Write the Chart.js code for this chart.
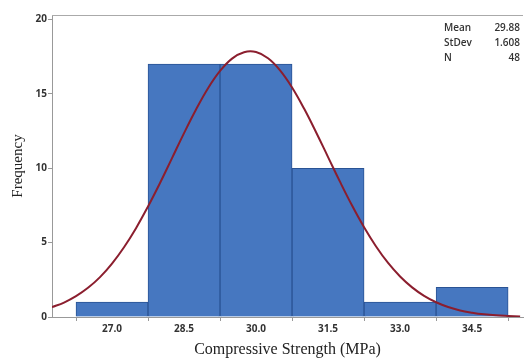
<!DOCTYPE html>
<html>
<head>
<meta charset="utf-8">
<script src="https://cdn.jsdelivr.net/npm/chart.js@4/dist/chart.umd.min.js"></script>
<style>
  html, body { margin: 0; padding: 0; background: #fff; }
  #wrap { width: 525px; height: 359px; }
</style>
</head>
<body>
<div id="wrap"><canvas id="chart" width="525" height="359"></canvas></div>
<script>
// histogram bins (centres) and counts
const binCenters = [27.0, 28.5, 30.0, 31.5, 33.0, 34.5];
const frequencies = [1, 17, 17, 10, 1, 2];
const xTicks = [27.0, 28.5, 30.0, 31.5, 33.0, 34.5];
const yTicks = [0, 5, 10, 15, 20];

// fitted normal curve
const curveX = [25.75, 26.0, 26.25, 26.5, 26.75, 27.0, 27.25, 27.5, 27.75, 28.0, 28.25, 28.5, 28.75, 29.0, 29.25, 29.5, 29.75, 30.0,
  30.25, 30.5, 30.75, 31.0, 31.25, 31.5, 31.75, 32.0, 32.25, 32.5, 32.75, 33.0, 33.25, 33.5, 33.75, 34.0, 34.25, 34.5, 34.75, 35.0, 35.25, 35.5];
const curveY = [0.66, 0.97, 1.40, 1.96, 2.68, 3.59, 4.69, 5.97, 7.43, 9.01, 10.68, 12.36, 13.95, 15.38, 16.54, 17.37, 17.80, 17.81,
  17.39, 16.58, 15.43, 14.01, 12.42, 10.75, 9.08, 7.49, 6.03, 4.74, 3.63, 2.72, 1.99, 1.42, 0.99, 0.67, 0.44, 0.29, 0.18, 0.11, 0.07, 0.04];

const statLabels = ["Mean", "StDev", "N"];
const statValues = ["29.88", "1.608", "48"];

const tickFont = { family: "'Open Sans', sans-serif", size: 10, weight: "bold" };

// top frame line + stats box
const extras = {
  id: "extras",
  afterDraw(chart) {
    const { ctx, chartArea } = chart;
    ctx.save();
    ctx.strokeStyle = "#aaa";
    ctx.lineWidth = 1;
    ctx.beginPath();
    ctx.moveTo(chartArea.left, chartArea.top + 0.5);
    ctx.lineTo(chartArea.right, chartArea.top + 0.5);
    ctx.stroke();

    ctx.fillStyle = "#333";
    ctx.font = "600 10px 'Open Sans', sans-serif";
    ctx.textBaseline = "middle";
    statLabels.forEach((lab, i) => {
      const y = 28 + i * 15;
      ctx.textAlign = "left";
      ctx.fillText(lab, 444, y);
      ctx.textAlign = "right";
      ctx.fillText(statValues[i], 520, y);
    });
    ctx.restore();
  }
};

new Chart(document.getElementById("chart"), {
  type: "bar",
  data: {
    datasets: [
      {
        type: "line",
        data: curveX.map((x, i) => ({ x: x, y: curveY[i] })),
        borderColor: "#8b1e2e",
        borderWidth: 2,
        pointRadius: 0,
        tension: 0.4,
        order: 0
      },
      {
        type: "bar",
        data: binCenters.map((x, i) => ({ x: x, y: frequencies[i] })),
        backgroundColor: "#4677c0",
        borderColor: "#2a5394",
        borderWidth: 1,
        barPercentage: 1,
        categoryPercentage: 1,
        order: 1
      }
    ]
  },
  options: {
    responsive: false,
    animation: false,
    layout: { padding: { top: 15, right: 2, left: 0, bottom: 0 } },
    plugins: { legend: { display: false }, tooltip: { enabled: false } },
    scales: {
      x: {
        type: "linear",
        offset: false,
        min: 25.75,
        max: 35.56,
        afterBuildTicks: s => { s.ticks = xTicks.map(v => ({ value: v })); },
        afterFit: s => { s.height = 42; },
        ticks: {
          callback: v => Number(v).toFixed(1),
          font: tickFont,
          color: "#333",
          padding: 2,
          maxRotation: 0
        },
        grid: { drawOnChartArea: false, tickLength: 4, color: "#999" },
        border: { color: "#999" },
        title: {
          display: true,
          text: "Compressive Strength (MPa)",
          font: { family: "'Liberation Serif', 'Times New Roman', serif", size: 16 },
          color: "#222",
          padding: { top: 1, bottom: 0 }
        }
      },
      y: {
        min: 0,
        max: 20.3,
        afterBuildTicks: s => { s.ticks = yTicks.map(v => ({ value: v })); },
        afterFit: s => { s.width = 52; },
        ticks: { font: tickFont, color: "#333", padding: 1 },
        grid: { drawOnChartArea: false, tickLength: 4, color: "#999" },
        border: { color: "#999" },
        title: {
          display: true,
          text: "Frequency",
          font: { family: "'Liberation Serif', 'Times New Roman', serif", size: 15 },
          color: "#222",
          padding: { top: 9, bottom: 0 }
        }
      }
    }
  },
  plugins: [extras]
});
</script>
</body>
</html>
